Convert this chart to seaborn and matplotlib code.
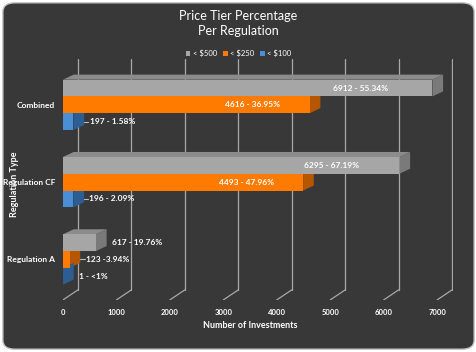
import numpy as np
import pandas as pd
import matplotlib
matplotlib.use("Agg")
import matplotlib.pyplot as plt
from matplotlib.patches import FancyBboxPatch, Polygon, Patch
import seaborn as sns

regulations = ["Combined", "Regulation CF", "Regulation A"]
tiers = ["< $500", "< $250", "< $100"]
under_500 = [6912, 6295, 617]
under_250 = [4616, 4493, 123]
under_100 = [197, 196, 1]
labels_500 = ["6912 - 55.34%", "6295 - 67.19%", "617 - 19.76%"]
labels_250 = ["4616 - 36.95%", "4493 - 47.96%", "123 -3.94%"]
labels_100 = ["197 - 1.58%", "196 - 2.09%", "1 - <1%"]
ticks = [0, 1000, 2000, 3000, 4000, 5000, 6000, 7000]

front = ["#a6a6a6", "#ff7b00", "#4a8fd6"]
side = ["#7a7a7a", "#b55700", "#2c5e93"]
top = ["#8c8c8c", "#d46700", "#3a76b4"]

df = pd.DataFrame({
    "regulation": regulations * 3,
    "tier": np.repeat(tiers, 3),
    "count": under_500 + under_250 + under_100,
})
all_labels = [labels_500, labels_250, labels_100]

sns.set_theme(style="dark")
plt.rcParams["font.family"] = ["Lato", "DejaVu Sans"]

fig = plt.figure(figsize=(4.77, 3.52), dpi=100)
fig.patch.set_facecolor("white")
fig.patches.append(FancyBboxPatch((0.006, 0.008), 0.988, 0.984,
                                  boxstyle="round,pad=0,rounding_size=0.025",
                                  transform=fig.transFigure, facecolor="#383838",
                                  edgecolor="#c4c4c4", lw=1, zorder=0))

ax = fig.add_axes([0.132, 0.148, 0.818, 0.685])
ax.set_zorder(1)
ax.set_facecolor("none")
sns.barplot(data=df, y="regulation", x="count", hue="tier", palette=front,
            saturation=1, width=0.65, gap=0, orient="h", linewidth=0,
            legend=False, ax=ax, zorder=3)

ax.set_xlim(0, 7300)
ax.set_ylim(2.523, -0.595)

# 3d look: depth of bars
dx, dy = 200, -0.065
for i, cont in enumerate(ax.containers):
    for bar, lab in zip(cont, all_labels[i]):
        x0, y0 = bar.get_x(), bar.get_y()
        w, h = bar.get_width(), bar.get_height()
        ax.add_patch(Polygon([(x0, y0), (x0 + dx, y0 + dy), (x0 + w + dx, y0 + dy), (x0 + w, y0)],
                             closed=True, facecolor=top[i], lw=0, zorder=2))
        ax.add_patch(Polygon([(x0 + w, y0), (x0 + w + dx, y0 + dy), (x0 + w + dx, y0 + h + dy), (x0 + w, y0 + h)],
                             closed=True, facecolor=side[i], lw=0, zorder=2))
        yc = y0 + h / 2
        if w > 3000:
            ax.text(w * 0.88, yc, lab, ha="right", va="center", color="white",
                    fontsize=6, fontweight="bold", zorder=5)
        else:
            ax.text(w + 300, yc, lab, ha="left", va="center", color="white",
                    fontsize=6, fontweight="bold", zorder=5)
            if 50 < w < 300:
                ax.plot([w + dx, w + 280], [yc, yc], color="#bdbdbd", lw=0.8, zorder=4)

# back wall gridlines with floor
off = 281
yfloor = 2.393
for t in ticks:
    ax.plot([t + off, t + off], [-0.595, yfloor], color="#a8a8a8", lw=0.9, zorder=1)
    ax.plot([t + off, t], [yfloor, 2.523], color="#a8a8a8", lw=0.9, zorder=1)

ax.set_xticks(ticks)
ax.set_xticklabels([str(t) for t in ticks])
ax.tick_params(axis="x", length=0, pad=6.5, labelsize=5.5, labelcolor="white")
ax.tick_params(axis="y", length=0, pad=5.5, labelsize=6, labelcolor="white")
for lab in ax.get_xticklabels() + ax.get_yticklabels():
    lab.set_fontweight("bold")
for s in ax.spines.values():
    s.set_visible(False)
ax.grid(False)

ax.set_xlabel("Number of Investments", color="white", fontsize=6.5, fontweight="bold")
ax.xaxis.set_label_coords(0.479, -0.087)
ax.set_ylabel("Regulation Type", color="white", fontsize=6.5, fontweight="bold")
ax.yaxis.set_label_coords(-0.113, 0.48)

fig.text(0.499, 0.932, "Price Tier Percentage\nPer Regulation", ha="center", va="center",
         color="white", fontsize=9, linespacing=1.3)

handles = [Patch(facecolor=c, edgecolor="none") for c in front]
fig.legend(handles, tiers, loc="center", bbox_to_anchor=(0.5, 0.849), ncol=3,
           frameon=False, fontsize=5.5, labelcolor="white", handlelength=0.6,
           handleheight=0.6, handletextpad=0.3, columnspacing=0.8)

fig.savefig("out.png", dpi=100, facecolor=fig.get_facecolor())
